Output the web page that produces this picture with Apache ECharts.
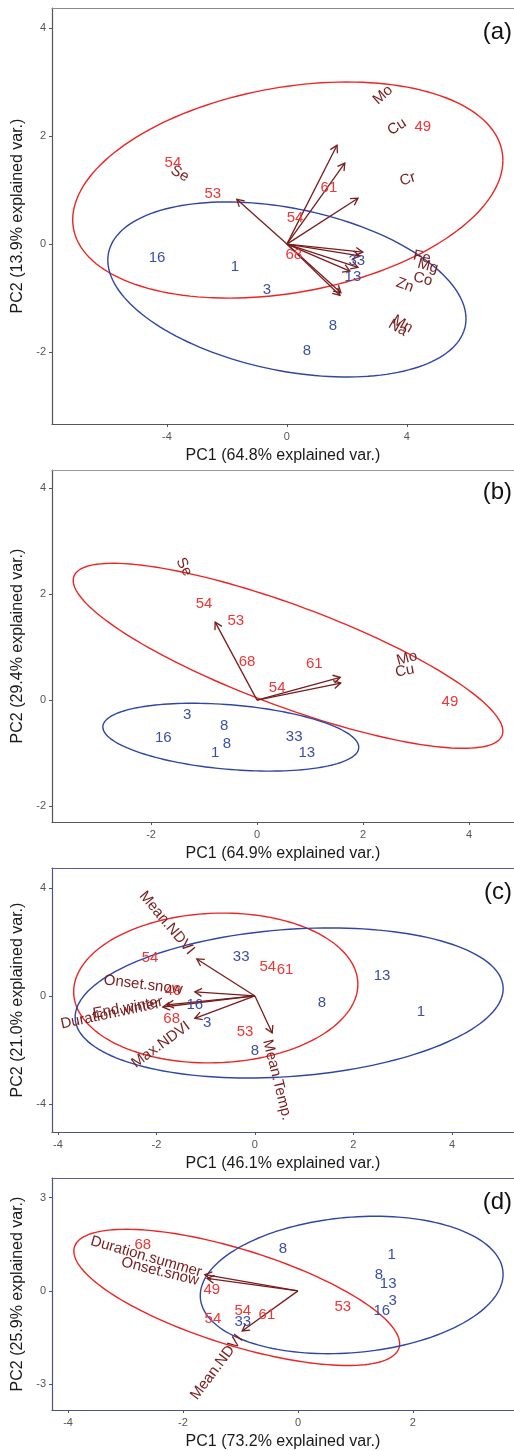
<!DOCTYPE html>
<html><head><meta charset="utf-8">
<script src="https://cdn.jsdelivr.net/npm/echarts@6/dist/echarts.min.js"></script>
<style>html,body{margin:0;padding:0;background:#fff}#c{width:514px;height:1451px}</style>
</head><body><div id="c"></div>
<script>
// ---------- Panel (a) ----------
const aXName = 'PC1 (64.8% explained var.)';
const aYName = 'PC2 (13.9% explained var.)';
const aXRange = [-7.83, 7.57];
const aYRange = [-3.33, 4.37];
const aXTicks = [-4, 0, 4];
const aYTicks = [-2, 0, 2, 4];
const aVarNames = ['Mo', 'Cu', 'Cr', 'Se', 'Fe', 'Mg', 'Co', 'Zn', 'Mn', 'Na'];
const aVarTipX = [1.67, 1.93, 2.37, -1.67, 2.53, 2.43, 2.37, 2.10, 1.80, 1.77];
const aVarTipY = [1.83, 1.50, 0.85, 0.83, -0.15, -0.22, -0.43, -0.50, -0.90, -0.95];
const aVarLabX = [3.20, 3.67, 4.03, -3.57, 4.50, 4.70, 4.53, 3.93, 3.85, 3.70];
const aVarLabY = [2.76, 2.17, 1.20, 1.30, -0.24, -0.41, -0.65, -0.76, -1.48, -1.55];
const aVarAngle = [42, 33, 18, -30, -12, -15, -15, -20, -30, -30];
const aRedIds = ['54', '53', '49', '61', '54', '68'];
const aRedX = [-3.80, -2.47, 4.53, 1.40, 0.27, 0.23];
const aRedY = [1.50, 0.93, 2.17, 1.04, 0.48, -0.20];
const aBlueIds = ['16', '1', '3', '33', '13', '8', '8'];
const aBlueX = [-4.33, -1.73, -0.67, 2.33, 2.20, 1.53, 0.67];
const aBlueY = [-0.26, -0.42, -0.85, -0.31, -0.61, -1.52, -1.98];
// ellipse: [centerX, centerY, halfWidthX, halfHeightY, correlation]
const aRedEllipse = [0.03, 1.00, 7.17, 2.00, 0.275];
const aBlueEllipse = [0.00, -0.84, 5.97, 1.62, -0.335];

// ---------- Panel (b) ----------
const bXName = 'PC1 (64.9% explained var.)';
const bYName = 'PC2 (29.4% explained var.)';
const bXRange = [-3.87, 4.85];
const bYRange = [-2.30, 4.34];
const bXTicks = [-2, 0, 2, 4];
const bYTicks = [-2, 0, 2, 4];
const bVarNames = ['Se', 'Mo', 'Cu'];
const bVarTipX = [-0.79, 1.57, 1.58];
const bVarTipY = [1.47, 0.43, 0.32];
const bVarLabX = [-1.38, 2.83, 2.79];
const bVarLabY = [2.51, 0.79, 0.55];
const bVarAngle = [-62, 15, 11];
const bRedIds = ['54', '53', '68', '61', '54', '49'];
const bRedX = [-1.00, -0.40, -0.19, 1.08, 0.38, 3.64];
const bRedY = [1.81, 1.49, 0.72, 0.68, 0.23, -0.03];
const bBlueIds = ['3', '8', '16', '8', '1', '33', '13'];
const bBlueX = [-1.32, -0.62, -1.77, -0.57, -0.79, 0.70, 0.94];
const bBlueY = [-0.28, -0.49, -0.72, -0.83, -1.00, -0.69, -0.99];
const bRedEllipse = [0.585, 0.835, 4.055, 1.745, -0.815];
const bBlueEllipse = [-0.495, -0.70, 2.415, 0.64, -0.30];

// ---------- Panel (c) ----------
const cXName = 'PC1 (46.1% explained var.)';
const cYName = 'PC2 (21.0% explained var.)';
const cXRange = [-4.12, 5.26];
const cYRange = [-5.04, 4.74];
const cXTicks = [-4, -2, 0, 2, 4];
const cYTicks = [-4, 0, 4];
const cVarNames = ['Mean.NDVI', 'Onset.snow', 'End.winter', 'Duration.winter', 'Max.NDVI', 'Mean.Temp.'];
const cVarTipX = [-1.18, -1.22, -1.79, -1.87, -1.22, 0.35];
const cVarTipY = [1.37, 0.15, -0.33, -0.41, -0.83, -1.37];
const cVarLabX = [-1.79, -2.27, -2.58, -2.94, -1.91, 0.45];
const cVarLabY = [2.70, 0.41, -0.44, -0.67, -1.81, -3.11];
const cVarAngle = [-50, -7, 10, 12, 36, -76];
const cRedIds = ['54', '54', '61', '49', '68', '53'];
const cRedX = [-2.13, 0.26, 0.61, -1.66, -1.69, -0.20];
const cRedY = [1.41, 1.07, 0.96, 0.19, -0.85, -1.33];
const cBlueIds = ['33', '13', '8', '1', '16', '3', '8'];
const cBlueX = [-0.28, 2.58, 1.36, 3.37, -1.22, -0.97, 0.00];
const cBlueY = [1.44, 0.74, -0.26, -0.59, -0.33, -1.00, -2.04];
const cRedEllipse = [-0.795, 0.295, 2.885, 2.775, 0.05];
const cBlueEllipse = [0.695, -0.26, 4.345, 2.78, 0.19];

// ---------- Panel (d) ----------
const dXName = 'PC1 (73.2% explained var.)';
const dYName = 'PC2 (25.9% explained var.)';
const dXRange = [-4.28, 3.76];
const dYRange = [-3.83, 3.63];
const dXTicks = [-4, -2, 0, 2];
const dYTicks = [-3, 0, 3];
const dVarNames = ['Duration.summer', 'Onset.snow', 'Mean.NDVI'];
const dVarTipX = [-1.62, -1.58, -0.97];
const dVarTipY = [0.52, 0.40, -1.29];
const dVarLabX = [-2.64, -2.40, -1.41];
const dVarLabY = [1.10, 0.62, -2.45];
const dVarAngle = [-16, -14, 53];
const dRedIds = ['68', '49', '53', '54', '61', '54'];
const dRedX = [-2.70, -1.50, 0.78, -0.96, -0.54, -1.48];
const dRedY = [1.48, 0.02, -0.52, -0.65, -0.78, -0.90];
const dBlueIds = ['8', '1', '8', '13', '3', '16', '33'];
const dBlueX = [-0.26, 1.63, 1.41, 1.57, 1.65, 1.46, -0.96];
const dBlueY = [1.35, 1.16, 0.52, 0.21, -0.33, -0.65, -0.98];
const dRedEllipse = [-1.065, -0.21, 2.835, 2.19, -0.68];
const dBlueEllipse = [0.935, 0.19, 2.635, 2.21, 0.155];

const panelTags = ['(a)', '(b)', '(c)', '(d)'];

// ---------- styling ----------
const RED = '#f03535', BLUE = '#3a4fa8', MAROON = '#7a1c1c';
const ELL_RED = '#ee2424', ELL_BLUE = '#2f46a3';
const FONT = '"Liberation Sans", Arial, sans-serif';

const panels = [
  {xName: aXName, yName: aYName, xr: aXRange, yr: aYRange, xt: aXTicks, yt: aYTicks,
   vn: aVarNames, vx: aVarTipX, vy: aVarTipY, lx: aVarLabX, ly: aVarLabY, la: aVarAngle,
   ri: aRedIds, rx: aRedX, ry: aRedY, bi: aBlueIds, bx: aBlueX, by: aBlueY,
   re: aRedEllipse, be: aBlueEllipse, axis: '#555555', border: '#8a8a8a',
   grid: {left: 52, right: 0, top: 8, height: 416}, tagTop: 20},
  {xName: bXName, yName: bYName, xr: bXRange, yr: bYRange, xt: bXTicks, yt: bYTicks,
   vn: bVarNames, vx: bVarTipX, vy: bVarTipY, lx: bVarLabX, ly: bVarLabY, la: bVarAngle,
   ri: bRedIds, rx: bRedX, ry: bRedY, bi: bBlueIds, bx: bBlueX, by: bBlueY,
   re: bRedEllipse, be: bBlueEllipse, axis: '#555555', border: '#9a9a9a',
   grid: {left: 52, right: 0, top: 470, height: 352}, tagTop: 480},
  {xName: cXName, yName: cYName, xr: cXRange, yr: cYRange, xt: cXTicks, yt: cYTicks,
   vn: cVarNames, vx: cVarTipX, vy: cVarTipY, lx: cVarLabX, ly: cVarLabY, la: cVarAngle,
   ri: cRedIds, rx: cRedX, ry: cRedY, bi: cBlueIds, bx: cBlueX, by: cBlueY,
   re: cRedEllipse, be: cBlueEllipse, axis: '#4d5286', border: '#5a5e8e',
   grid: {left: 52, right: 0, top: 868, height: 264}, tagTop: 880},
  {xName: dXName, yName: dYName, xr: dXRange, yr: dYRange, xt: dXTicks, yt: dYTicks,
   vn: dVarNames, vx: dVarTipX, vy: dVarTipY, lx: dVarLabX, ly: dVarLabY, la: dVarAngle,
   ri: dRedIds, rx: dRedX, ry: dRedY, bi: dBlueIds, bx: dBlueX, by: dBlueY,
   re: dRedEllipse, be: dBlueEllipse, axis: '#4d5286', border: '#5a5e8e',
   grid: {left: 52, right: 0, top: 1178, height: 235}, tagTop: 1190}
];

function ellipseRender(color) {
  return function (params, api) {
    const cx = api.value(0), cy = api.value(1), sx = api.value(2), sy = api.value(3), r = api.value(4);
    const k = Math.sqrt(1 - r * r);
    const pts = [];
    for (let i = 0; i <= 160; i++) {
      const t = i / 160 * 2 * Math.PI;
      pts.push(api.coord([cx + sx * Math.cos(t), cy + sy * (r * Math.cos(t) + k * Math.sin(t))]));
    }
    return {type: 'polyline', shape: {points: pts}, style: {stroke: color, fill: null, lineWidth: 1.4}};
  };
}
function arrowRender(color) {
  return function (params, api) {
    const o = api.coord([0, 0]);
    const p = api.coord([api.value(0), api.value(1)]);
    const ang = Math.atan2(p[1] - o[1], p[0] - o[0]);
    const L = 8, w = Math.PI / 6;
    const h1 = [p[0] - L * Math.cos(ang - w), p[1] - L * Math.sin(ang - w)];
    const h2 = [p[0] - L * Math.cos(ang + w), p[1] - L * Math.sin(ang + w)];
    return {type: 'group', children: [
      {type: 'line', shape: {x1: o[0], y1: o[1], x2: p[0], y2: p[1]}, style: {stroke: color, lineWidth: 1.3}},
      {type: 'polyline', shape: {points: [h1, p, h2]}, style: {stroke: color, lineWidth: 1.3, fill: null}}
    ]};
  };
}
function textRender(labels, color, size) {
  return function (params, api) {
    const p = api.coord([api.value(0), api.value(1)]);
    return {type: 'text', x: p[0], y: p[1], rotation: (api.value(2) || 0) * Math.PI / 180,
      style: {text: labels[params.dataIndex], fill: color, font: size + 'px ' + FONT,
        align: 'center', verticalAlign: 'middle'}};
  };
}

const grid = [], xAxis = [], yAxis = [], series = [], title = [];
panels.forEach((P, i) => {
  grid.push(P.grid);
  xAxis.push({gridIndex: i, type: 'value', min: P.xr[0], max: P.xr[1], position: 'bottom',
    name: P.xName, nameLocation: 'middle', nameGap: 24,
    nameTextStyle: {fontSize: 16, color: '#1a1a1a', fontFamily: FONT},
    axisLine: {show: true, onZero: false, lineStyle: {color: P.axis, width: 1.2}},
    axisTick: {show: true, length: 3, customValues: P.xt, lineStyle: {color: P.axis}},
    axisLabel: {customValues: P.xt, margin: 7, fontSize: 11, color: '#555', fontFamily: FONT},
    splitLine: {show: false}});
  yAxis.push({gridIndex: i, type: 'value', min: P.yr[0], max: P.yr[1],
    name: P.yName, nameLocation: 'middle', nameGap: 26,
    nameTextStyle: {fontSize: 16, color: '#1a1a1a', fontFamily: FONT},
    axisLine: {show: true, onZero: false, lineStyle: {color: P.axis, width: 1.2}},
    axisTick: {show: true, length: 3, customValues: P.yt, lineStyle: {color: P.axis}},
    axisLabel: {customValues: P.yt, margin: 6, fontSize: 11, color: '#555', fontFamily: FONT},
    splitLine: {show: false}});
  title.push({text: panelTags[i], right: 2, top: P.tagTop, padding: 0,
    textStyle: {fontSize: 24, fontWeight: 'normal', color: '#111', fontFamily: FONT}});
});
// top border lines of each panel
panels.forEach((P, i) => {
  xAxis.push({gridIndex: i, type: 'value', min: P.xr[0], max: P.xr[1], position: 'top',
    axisLine: {show: true, onZero: false, lineStyle: {color: P.border, width: 1.2}},
    axisTick: {show: false}, axisLabel: {show: false}, splitLine: {show: false}});
});
panels.forEach((P, i) => {
  const base = {type: 'custom', xAxisIndex: i, yAxisIndex: i, silent: true, animation: false, clip: true};
  series.push(Object.assign({}, base, {renderItem: ellipseRender(ELL_RED), data: [P.re]}));
  series.push(Object.assign({}, base, {renderItem: ellipseRender(ELL_BLUE), data: [P.be]}));
  series.push(Object.assign({}, base, {renderItem: arrowRender(MAROON),
    data: P.vx.map((x, j) => [x, P.vy[j]])}));
  series.push(Object.assign({}, base, {renderItem: textRender(P.ri, RED, 15),
    data: P.rx.map((x, j) => [x, P.ry[j], 0])}));
  series.push(Object.assign({}, base, {renderItem: textRender(P.bi, BLUE, 15),
    data: P.bx.map((x, j) => [x, P.by[j], 0])}));
  series.push(Object.assign({}, base, {renderItem: textRender(P.vn, MAROON, 15),
    data: P.lx.map((x, j) => [x, P.ly[j], P.la[j]])}));
});

const chart = echarts.init(document.getElementById('c'), null, {renderer: 'canvas'});
chart.setOption({animation: false, backgroundColor: '#fff', title, grid, xAxis, yAxis, series});
</script>
</body></html>
